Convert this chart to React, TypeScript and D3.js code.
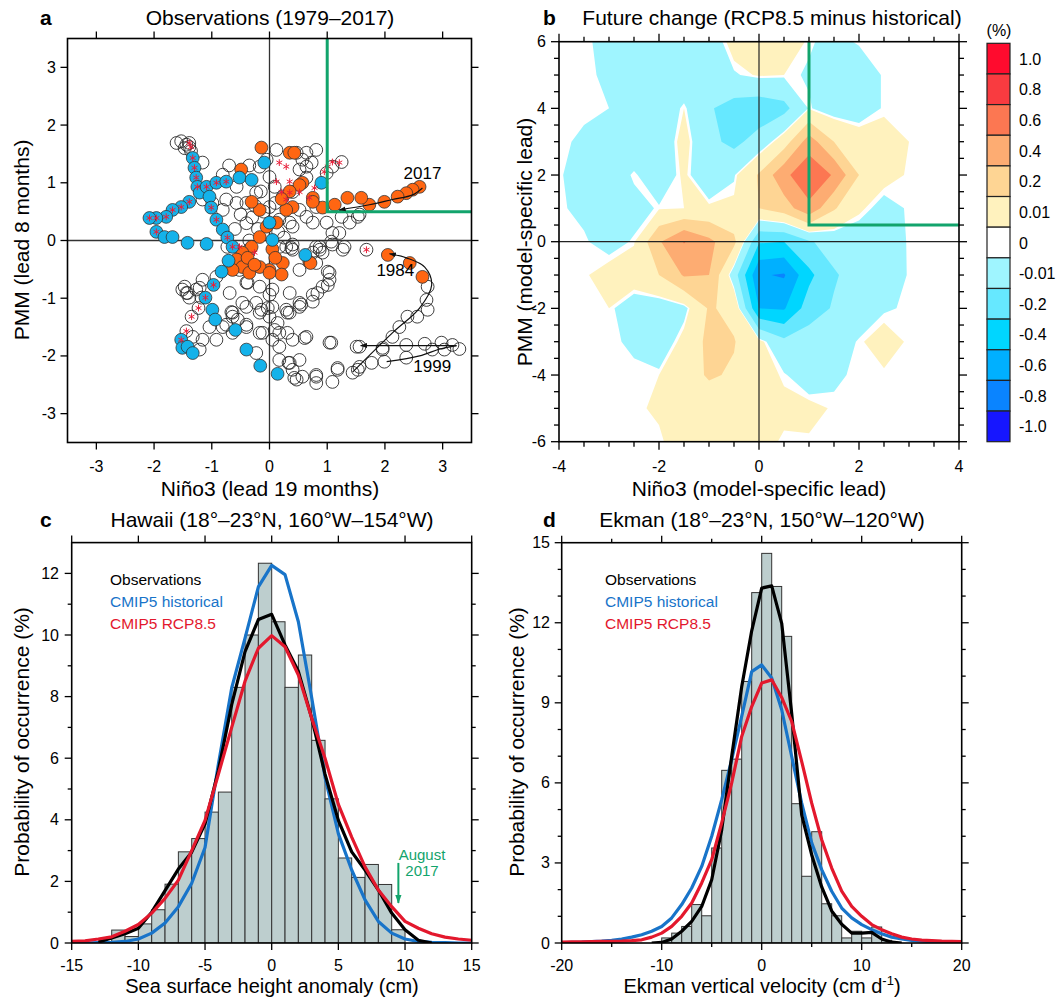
import * as d3 from 'd3'

const FONT = "'Liberation Sans', Arial, Helvetica, sans-serif"

// ---------- panel a: observed trajectory (Nino3 lead 19 months vs PMM lead 8 months) ----------
const openPts: [number, number][] = [
  [-1.61, 1.69], [-1.53, 1.72], [-1.44, 1.66], [-1.39, 1.62], [-1.47, 1.6], [-1.36, 1.55], [-1.39, 1.69],
  [-1.16, 1.35], [-0.81, 1.14], [-0.75, 0.71], [-0.81, 0.53], [-0.57, 0.93], [-0.57, 0.65], [-0.4, 0.65], [-0.23, 0.83],
  [-0.17, 1.28], [-0.05, 1.4], [0.12, 1.57], [0.64, 1.28], [0.64, 1.52], [0.81, 1.57], [0.81, 0.58], [0.64, 0.41],
  [0.4, 0.24], [0.29, -0.11], [0.4, -0.16], [0.52, -0.51], [0.75, -0.21], [0.87, -0.11], [-1.16, 0.71], [-0.99, 0.65],
  [-1.16, -0.68], [-0.92, -0.63], [-0.52, -0.51], [-0.4, -0.73], [-0.17, -0.8], [0.05, -0.85], [0.35, -0.91],
  [0.52, -1.08], [0.29, -1.2], [-0.17, -1.25], [-0.4, -1.15], [-0.64, -1.25], [-0.81, -1.5], [-0.64, -1.6],
  [-0.4, -1.5], [-0.17, -1.6], [0.05, -1.72], [0.17, -1.84], [0.4, -1.72], [0.64, -1.67], [0.52, -2.07], [0.4, -2.24],
  [-0.23, -1.95], [-1.33, -1.67], [-1.44, -0.91], [-1.51, -0.85], [-1.39, -0.99], [-1.42, -0.91], [-1.47, -0.8],
  [-1.27, -0.85], [-1.21, -0.82], [-1.18, -0.99], [-1.23, -1.17], [-1.35, -1.32], [-1.44, -1.57],
  [-0.69, -0.91], [-0.47, -1.08], [-0.38, -0.73], [0.0, -0.94], [0.05, -1.15], [0.0, -1.32], [0.09, -1.55],
  [0.17, -1.6], [0.33, -2.12], [0.55, -1.11], [0.75, -0.94], [0.92, -0.8], [1.04, -0.68], [1.01, -0.54],
  [0.81, -0.39], [0.31, -1.25], [0.61, -1.69], [1.07, -1.77], [1.51, -1.84], [1.53, -2.24], [1.18, -2.24],
  [1.09, -2.45], [0.81, -2.36], [0.81, -2.47], [0.57, -2.36], [0.47, -2.41], [-0.12, -1.6], [-0.55, -1.37],
  [-0.64, -1.32], [-0.75, -1.46], [-1.04, -1.5], [-0.92, -1.72], [-1.16, -1.72], [-1.21, -1.89], [-0.73, -0.11],
  [-0.52, -0.33], [-0.35, -0.16], [0.17, -0.11], [0.38, -0.13], [0.87, -0.16], [1.09, -0.07], [1.27, -0.16],
  [-0.4, -1.46], [-0.66, -1.24], [-0.23, -1.08], [-0.14, -1.2], [-0.03, -1.17], [0.43, -2.38],
  [0.75, 0.31], [0.99, 0.31], [1.25, 0.41], [1.56, 0.45], [1.09, 0.13], [0.81, -0.11], [0.4, -0.07], [0.92, -0.21],
  [1.04, -0.56], [1.01, -0.77], [0.83, -0.91], [0.75, -1.06], [0.52, -1.15], [0.35, -1.25], [0.14, -1.43],
  [0.31, -1.6], [1.04, -1.77], [1.56, -1.84], [1.96, -1.86], [2.37, -1.81], [2.69, -1.79], [2.98, -1.77],
  [3.17, -1.81], [3.29, -1.88], [3.03, -1.89], [2.82, -1.89], [2.37, -2.03], [1.99, -2.1], [1.77, -2.12],
  [1.56, -2.19], [1.44, -2.29], [1.18, -2.21], [0.81, -2.33], [0.35, -2.12], [0.17, -2.07],
  [2.74, -0.8], [2.72, -1.03], [2.74, -1.2], [2.56, -1.32], [2.39, -1.32], [2.25, -1.5], [2.13, -1.67], [1.96, -1.89],
  [1.25, 1.36], [1.09, 1.28], [0.99, 1.17], [0.73, 1.35], [0.57, 1.4], [0.47, 1.52], [0.52, 1.23], [0.64, 1.09],
  [0.4, 0.84], [0.23, 0.76], [0.09, 0.93], [0.0, 0.58], [0.17, 0.36], [0.35, 0.31], [0.52, 0.53], [1.3, -0.11],
  [1.68, -0.16], [1.39, 0.31], [1.53, 0.41], [1.07, -0.02], [1.21, 0.13],
  [-0.3, 0.4], [-0.2, 0.2], [-0.4, 0.3], [-0.1, 0.5], [-0.25, 0.6], [0.15, 0.15], [0.25, 0.05], [-0.35, 0.0],
  [-0.5, 0.45], [-0.6, 0.2], [0.1, 0.65], [-0.15, 0.85], [0.0, 1.1], [-0.35, 1.3], [-0.7, 1.3],
]

const orangePts: [number, number][] = [
  [2.6, 0.93], [2.48, 0.88], [2.37, 0.82], [2.22, 0.76], [1.99, 0.67], [1.73, 0.62], [1.59, 0.74], [1.35, 0.74],
  [1.13, 0.62], [0.92, 0.57], [0.75, 0.74], [0.57, 1.0], [0.35, 1.52], [0.43, 1.52], [-0.14, 1.61], [-0.49, 1.23],
  [2.05, -0.25], [2.43, -0.39], [2.65, -0.63],
  [0.69, -0.37], [0.23, -0.39], [0.0, -0.51], [0.21, -0.59], [0.71, -0.39],
  [0.4, 0.58], [0.29, 0.53], [0.12, 0.31], [-0.17, 0.06], [-0.31, -0.11], [-0.47, -0.21], [-0.57, -0.33],
  [-0.47, -0.46], [-0.35, -0.56], [-0.17, -0.46], [0.0, -0.56], [0.75, 0.67], [-0.17, 0.53], [-0.31, 0.67],
  [-0.38, -0.3], [-0.26, -0.42], [-0.64, -0.51], [0.52, 0.96], [0.35, 0.85], [0.21, 0.72], [-0.05, 0.24],
  [0.05, -0.15], [0.1, -0.3],
]

const bluePts: [number, number][] = [
  [-1.33, 1.43], [-1.3, 1.26], [-1.27, 1.09], [-1.25, 0.93], [-1.21, 0.83],
  [-1.09, 0.93], [-0.92, 1.0], [-0.75, 1.02], [-0.52, 1.09], [-0.31, 1.05],
  [-1.39, 0.67], [-1.53, 0.58], [-1.68, 0.53], [-1.79, 0.41], [-1.96, 0.39], [-2.08, 0.39], [-1.96, 0.15],
  [-1.82, 0.06], [-1.68, 0.06], [-1.42, -0.04], [-1.09, -0.06],
  [-1.04, 0.76], [-1.01, 0.57], [-0.92, 0.36], [-0.81, 0.19], [-0.73, 0.05], [-0.64, -0.11], [-0.71, -0.35],
  [-0.83, -0.54], [-0.97, -0.77], [-1.11, -0.99], [-0.99, -1.2], [-0.94, -1.37], [-0.59, -1.55],
  [-1.53, -1.72], [-1.51, -1.86], [-1.42, -1.84], [-1.33, -1.95],
  [-0.4, -1.89], [-0.16, -2.17], [0.14, -2.31],
  [-0.09, 1.35], [0.0, 0.31], [0.05, 0.01], [0.62, -0.25], [0.9, 1.0],
]

const starPts: [number, number][] = [
  [-1.33, 1.43], [-1.3, 1.26], [-1.27, 1.09], [-1.25, 0.93], [-1.39, 1.69], [-1.36, 1.62],
  [-1.39, 0.67], [-1.53, 0.58], [-1.68, 0.53], [-1.79, 0.41], [-1.96, 0.39], [-2.08, 0.39], [-1.96, 0.15],
  [-1.01, 0.57], [-0.92, 0.36], [-0.73, 0.05], [-0.64, -0.11], [-1.09, 0.93], [-0.92, 1.0], [-0.75, 1.02],
  [-0.97, -0.77], [-1.11, -0.99], [-1.23, -1.17], [-1.35, -1.32], [-1.44, -1.57], [-1.53, -1.72],
  [0.17, 1.35], [0.29, 1.28], [0.35, 1.02], [0.12, 1.02], [0.21, 0.84], [0.35, 0.83], [0.52, 0.84],
  [0.78, 0.91], [1.09, 1.36], [1.21, 1.35], [1.01, 1.28], [0.95, 1.19], [0.69, 0.74], [0.29, 0.71],
  [1.68, -0.16], [-0.52, -0.11], [-0.26, -0.21],
]

const arrow2017: [number, number][] = [[2.65, 0.91], [2.48, 0.79], [2.13, 0.71], [1.73, 0.62], [1.21, 0.53]]
const arrow1984: [number, number][] = [[1.44, -2.28], [2.13, -1.6], [2.6, -1.17], [2.81, -0.77], [2.69, -0.46], [2.37, -0.3], [2.08, -0.23]]
const arrow1999Curve: [number, number][] = [[2.03, -2.1], [2.6, -2.0], [2.95, -1.88], [3.24, -1.82]]
const arrow1999Line: [number, number][] = [[3.24, -1.82], [1.58, -1.82]]
const yearLabels = [
  { text: '2017', x: 2.65, y: 1.17 },
  { text: '1984', x: 2.18, y: -0.51 },
  { text: '1999', x: 2.82, y: -2.17 },
]

// ---------- panel b: future change field ----------
const gridX = [-4, -3.5, -3, -2.5, -2, -1.5, -1, -0.5, 0, 0.5, 1, 1.5, 2, 2.5, 3, 3.5, 4]
const gridY = [6, 5, 4, 3, 2, 1, 0, -1, -2, -3, -4, -5, -6]
const changeGrid = [
  [0, 0, -0.03, -0.1, -0.1, -0.1, -0.08, 0.05, 0.08, 0.06, 0, -0.04, 0, 0, 0, 0, 0],
  [0, 0, -0.02, -0.1, -0.12, -0.12, -0.15, -0.02, 0.02, 0.01, -0.02, -0.1, -0.08, 0, 0, 0, 0],
  [0, 0, -0.01, -0.1, -0.12, 0.01, -0.18, -0.28, -0.32, -0.26, 0, -0.08, -0.08, 0, 0, 0, 0],
  [0, -0.02, -0.1, -0.12, -0.12, 0.06, -0.15, -0.25, -0.12, 0.1, 0.5, 0.2, 0.08, 0.04, 0.01, 0, 0],
  [0, -0.06, -0.1, 0.005, -0.1, 0.03, -0.12, -0.02, 0.22, 0.55, 0.75, 0.58, 0.2, 0.05, 0, 0, 0],
  [0, -0.03, -0.06, -0.05, 0, 0.01, 0.03, 0.03, 0.2, 0.3, 0.55, 0.22, 0.03, -0.05, 0, 0, 0],
  [0, 0, -0.05, 0, 0.38, 0.61, 0.45, 0.25, -0.38, -0.4, -0.22, -0.12, -0.08, -0.05, -0.005, 0, 0],
  [0, 0, 0.05, 0.08, 0.2, 0.42, 0.4, -0.1, -0.78, -0.82, -0.45, -0.22, -0.12, -0.06, -0.005, 0, 0],
  [0, 0, 0.01, -0.08, -0.1, -0.05, 0.22, 0.15, -0.6, -0.62, -0.3, -0.18, -0.1, -0.02, 0, 0, 0],
  [0, 0, 0, -0.02, -0.1, 0.05, 0.25, 0.21, 0.05, -0.15, -0.1, -0.08, 0, 0.05, 0, 0, 0],
  [0, 0, 0, 0, 0.01, 0.12, 0.22, 0.18, 0.05, 0, -0.08, -0.02, 0, 0, 0, 0, 0],
  [0, 0, 0, 0, 0.02, 0.08, 0.1, 0.08, 0.05, 0.03, 0.04, 0, 0, 0, 0, 0, 0],
  [0, 0, 0, 0, 0, 0.05, 0.08, 0.06, 0.04, 0, 0, 0, 0, 0, 0, 0, 0],
]
const levels = [0.01, 0.2, 0.4, 0.6, 0.8, 1.0]
const posColors = ['#fff2be', '#fed594', '#fdac72', '#fc7752', '#f93b40', '#ff0b2e']
const negColors = ['#9ff5ff', '#66e8ff', '#00d6ff', '#00b0ff', '#0a84ff', '#1616ff']
const barLabels = ['1.0', '0.8', '0.6', '0.4', '0.2', '0.01', '0', '-0.01', '-0.2', '-0.4', '-0.6', '-0.8', '-1.0']
const barColors = [...posColors].reverse().concat(['#ffffff'], negColors)

// ---------- panel c: Hawaii sea surface height ----------
const sshBinLeft = [-12, -11, -10, -9, -8, -7, -6, -5, -4, -3, -2, -1, 0, 1, 2, 3, 4, 5, 6, 7, 8, 9]
const sshCounts = [0.42, 0.21, 0.62, 1.08, 1.91, 2.96, 3.39, 4.25, 4.9, 8.3, 10.0, 12.33, 10.43, 8.3, 9.35, 6.58, 4.68, 2.76, 2.13, 2.55, 1.9, 0.43]
const sshX = [-15, -14, -13, -12, -11, -10, -9, -8, -7, -6, -5, -4, -3, -2, -1, 0, 1, 2, 3, 4, 5, 6, 7, 8, 9, 10, 11, 12, 13, 14, 15]
const sshHist = [0, 0, 0.01, 0.02, 0.05, 0.13, 0.32, 0.65, 1.18, 1.94, 3.1, 5.8, 8.28, 9.9, 11.56, 12.26, 11.96, 10.43, 7.96, 5.38, 3.55, 2.37, 1.4, 0.7, 0.32, 0.13, 0.05, 0.02, 0.01, 0, 0]
const sshRcp = [0.05, 0.07, 0.13, 0.2, 0.38, 0.6, 0.97, 1.45, 2.04, 3.0, 3.98, 5.48, 7.0, 8.5, 9.57, 9.98, 9.62, 8.7, 7.3, 6.0, 4.5, 3.44, 2.47, 1.72, 1.18, 0.7, 0.48, 0.3, 0.19, 0.13, 0.09]
const sshObsX = [-13, -12, -11, -10, -9, -8, -7, -6, -5, -4, -3, -2, -1, 0, 1, 2, 3, 4, 5, 6, 7, 8, 9, 10, 11, 12]
const sshObs = [0.03, 0.16, 0.3, 0.48, 1.0, 1.7, 2.4, 2.95, 3.87, 5.6, 7.74, 9.46, 10.5, 10.67, 9.68, 8.82, 7.3, 5.48, 3.98, 2.96, 2.37, 1.72, 0.97, 0.43, 0.09, 0]
const aug2017 = { x: 9.5, top: 2.6, bottom: 1.3 }

// ---------- panel d: Ekman vertical velocity ----------
const ekBinLeft = [-10, -9, -8, -7, -6, -5, -4, -3, -2, -1, 0, 1, 2, 3, 4, 5, 6, 7, 8, 9, 10, 11, 12]
const ekCounts = [0.19, 0.37, 0.62, 1.44, 1.02, 3.56, 6.47, 6.89, 9.8, 13.13, 14.6, 13.36, 11.49, 5.22, 2.5, 4.17, 1.47, 1.02, 0.19, 0.44, 0.19, 0.6, 0.1]
const ekX = [-20, -19, -18, -17, -16, -15, -14, -13, -12, -11, -10, -9, -8, -7, -6, -5, -4, -3, -2, -1, 0, 1, 2, 3, 4, 5, 6, 7, 8, 9, 10, 11, 12, 13, 14, 15, 16, 17, 18, 19, 20]
const ekHist = [0.01, 0.02, 0.03, 0.05, 0.07, 0.1, 0.15, 0.22, 0.31, 0.44, 0.62, 0.94, 1.44, 2.06, 2.87, 4.0, 5.37, 6.87, 8.49, 10.17, 10.42, 9.93, 8.74, 6.99, 5.24, 3.75, 2.75, 1.94, 1.31, 0.94, 0.69, 0.5, 0.35, 0.22, 0.15, 0.1, 0.07, 0.05, 0.03, 0.02, 0.01]
const ekRcp = [0.03, 0.04, 0.04, 0.05, 0.06, 0.06, 0.07, 0.09, 0.12, 0.22, 0.37, 0.62, 1.0, 1.5, 2.25, 3.12, 4.5, 6.0, 7.74, 8.86, 9.74, 9.86, 9.2, 8.3, 6.8, 5.24, 3.87, 2.81, 1.94, 1.37, 1.0, 0.69, 0.5, 0.35, 0.22, 0.15, 0.11, 0.09, 0.07, 0.06, 0.05]
const ekObsX = [-11, -10, -9, -8, -7, -6, -5, -4, -3, -2, -1, 0, 1, 2, 3, 4, 5, 6, 7, 8, 9, 10, 11, 12, 13, 14]
const ekObs = [0, 0.02, 0.15, 0.44, 0.81, 1.37, 2.37, 4.24, 7.0, 9.6, 11.7, 13.3, 13.38, 11.98, 8.6, 4.8, 3.3, 2.1, 1.2, 0.7, 0.37, 0.37, 0.4, 0.15, 0.03, 0]

const legendItems = [
  { label: 'Observations', color: '#000000' },
  { label: 'CMIP5 historical', color: '#1874c9' },
  { label: 'CMIP5 RCP8.5', color: '#e3182d' },
]

// ---------- scales ----------
const aX = d3.scaleLinear().domain([-3.5, 3.5]).range([67.5, 471.5])
const aY = d3.scaleLinear().domain([-3.5, 3.5]).range([442.5, 38.5])
const bX = d3.scaleLinear().domain([-4, 4]).range([559, 959])
const bY = d3.scaleLinear().domain([-6, 6]).range([441.7, 41.7])
const cX = d3.scaleLinear().domain([-15, 15]).range([71.7, 471.7])
const cY = d3.scaleLinear().domain([0, 13]).range([943, 542.6])
const dX = d3.scaleLinear().domain([-20, 20]).range([561.7, 961.7])
const dY = d3.scaleLinear().domain([0, 15]).range([943, 542.7])

const fmt = (v: number) => (v < 0 ? '-' + Math.abs(v) : String(v))
const range = (a: number, b: number, s: number) => d3.range(a, b + s / 2, s)

function Frame({ x, y, xMajor, xMinor = [], yMajor, yMinor = [], xLabelY, yLabelX, major = 7, minor = 4 }: any) {
  const [l, r] = x.range()
  const [b, t] = y.range()
  return (
    <g>
      <g stroke="#000" strokeWidth={1.3}>
        {xMajor.map((v: number) => (
          <g key={'xm' + v}>
            <line x1={x(v)} x2={x(v)} y1={b} y2={b + major} />
            <line x1={x(v)} x2={x(v)} y1={t} y2={t - major} />
          </g>
        ))}
        {xMinor.map((v: number) => (
          <g key={'xn' + v}>
            <line x1={x(v)} x2={x(v)} y1={b} y2={b + minor} />
            <line x1={x(v)} x2={x(v)} y1={t} y2={t - minor} />
          </g>
        ))}
        {yMajor.map((v: number) => (
          <g key={'ym' + v}>
            <line x1={l} x2={l - major} y1={y(v)} y2={y(v)} />
            <line x1={r} x2={r + major} y1={y(v)} y2={y(v)} />
          </g>
        ))}
        {yMinor.map((v: number) => (
          <g key={'yn' + v}>
            <line x1={l} x2={l - minor} y1={y(v)} y2={y(v)} />
            <line x1={r} x2={r + minor} y1={y(v)} y2={y(v)} />
          </g>
        ))}
      </g>
      <rect x={l} y={t} width={r - l} height={b - t} fill="none" stroke="#000" strokeWidth={1.6} />
      <g fontSize={16}>
        {xMajor.map((v: number) => (
          <text key={'tx' + v} x={x(v)} y={xLabelY} textAnchor="middle">{fmt(v)}</text>
        ))}
        {yMajor.map((v: number) => (
          <text key={'ty' + v} x={yLabelX} y={y(v) + 5.5} textAnchor="end">{fmt(v)}</text>
        ))}
      </g>
    </g>
  )
}

function starPath(cx: number, cy: number, r: number) {
  let d = ''
  for (const ang of [90, 30, 150]) {
    const a = (ang * Math.PI) / 180
    d += `M${cx - r * Math.cos(a)},${cy - r * Math.sin(a)}L${cx + r * Math.cos(a)},${cy + r * Math.sin(a)}`
  }
  return d
}

function PanelA() {
  const curve = d3.line<[number, number]>().x(d => aX(d[0])).y(d => aY(d[1])).curve(d3.curveCatmullRom)
  const straight = d3.line<[number, number]>().x(d => aX(d[0])).y(d => aY(d[1]))
  const R = 6.4
  return (
    <g>
      <defs>
        <clipPath id="clipA"><rect x={67.5} y={38.5} width={404} height={404} /></clipPath>
      </defs>
      <g clipPath="url(#clipA)">
        <line x1={aX(0)} x2={aX(0)} y1={aY(3.5)} y2={aY(-3.5)} stroke="#333" strokeWidth={1.3} />
        <line x1={aX(-3.5)} x2={aX(3.5)} y1={aY(0)} y2={aY(0)} stroke="#333" strokeWidth={1.3} />
        {openPts.map((p, i) => (
          <circle key={'o' + i} cx={aX(p[0])} cy={aY(p[1])} r={R} fill="none" stroke="#2a2a2a" strokeWidth={0.9} />
        ))}
        {orangePts.map((p, i) => (
          <circle key={'r' + i} cx={aX(p[0])} cy={aY(p[1])} r={R} fill="#ff6612" stroke="#333" strokeWidth={0.8} />
        ))}
        {bluePts.map((p, i) => (
          <circle key={'b' + i} cx={aX(p[0])} cy={aY(p[1])} r={R} fill="#14b2ea" stroke="#333" strokeWidth={0.8} />
        ))}
        {starPts.map((p, i) => (
          <path key={'s' + i} d={starPath(aX(p[0]), aY(p[1]), 3.4)} stroke="#e8203a" strokeWidth={1} />
        ))}
        <path d={`M${aX(1)},${aY(3.5)}V${aY(0.5)}H${aX(3.5)}`} fill="none" stroke="#12a46c" strokeWidth={3} />
        <g fill="none" stroke="#111" strokeWidth={1.2}>
          <path d={curve(arrow2017) || ''} markerEnd="url(#arrowK)" />
          <path d={curve(arrow1984) || ''} markerEnd="url(#arrowK)" />
          <path d={curve(arrow1999Curve) || ''} />
          <path d={straight(arrow1999Line) || ''} markerEnd="url(#arrowK)" />
        </g>
        {yearLabels.map(l => (
          <text key={l.text} x={aX(l.x)} y={aY(l.y) + 6} textAnchor="middle" fontSize={17}>{l.text}</text>
        ))}
      </g>
      <Frame x={aX} y={aY} xMajor={range(-3, 3, 1)} yMajor={range(-3, 3, 1)} xLabelY={472} yLabelX={56} />
      <text x={270} y={25} textAnchor="middle" fontSize={21}>Observations (1979–2017)</text>
      <text x={270} y={496} textAnchor="middle" fontSize={21}>Niño3 (lead 19 months)</text>
      <text transform="translate(29,240) rotate(-90)" textAnchor="middle" fontSize={21}>PMM (lead 8 months)</text>
    </g>
  )
}

function PanelB() {
  const nx = gridX.length
  const ny = gridY.length
  const flat = changeGrid.flat()
  const flatNeg = flat.map(v => -v)
  const gen = d3.contours().size([nx, ny])
  const proj = d3.geoTransform({
    point(px: number, py: number) {
      const gx = gridX[0] + (px - 0.5) * (gridX[1] - gridX[0])
      const gy = gridY[0] + (py - 0.5) * (gridY[1] - gridY[0])
      ;(this as any).stream.point(bX(gx), bY(gy))
    },
  })
  const path = d3.geoPath(proj)
  const boxH = (441.7 - 43.3) / barLabels.length
  return (
    <g>
      <defs>
        <clipPath id="clipB"><rect x={559} y={41.7} width={400} height={400} /></clipPath>
      </defs>
      <g clipPath="url(#clipB)">
        {levels.map((t, i) => (
          <path key={'p' + t} d={path(gen.contour(flat, t) as any) || ''} fill={posColors[i]} />
        ))}
        {levels.map((t, i) => (
          <path key={'n' + t} d={path(gen.contour(flatNeg, t) as any) || ''} fill={negColors[i]} />
        ))}
        <line x1={bX(0)} x2={bX(0)} y1={bY(6)} y2={bY(-6)} stroke="#222" strokeWidth={1.2} />
        <line x1={bX(-4)} x2={bX(4)} y1={bY(0)} y2={bY(0)} stroke="#222" strokeWidth={1.2} />
        <path d={`M${bX(1)},${bY(6)}V${bY(0.5)}H${bX(4)}`} fill="none" stroke="#12a46c" strokeWidth={3} />
      </g>
      <Frame x={bX} y={bY} xMajor={range(-4, 4, 2)} xMinor={range(-3.5, 3.5, 0.5).filter(v => v % 2 !== 0)}
        yMajor={range(-6, 6, 2)} yMinor={range(-5.5, 5.5, 0.5).filter(v => v % 2 !== 0)}
        xLabelY={472} yLabelX={546} major={8} minor={5} />
      {barLabels.map((lab, i) => (
        <g key={'cb' + i}>
          <rect x={987} y={43.3 + i * boxH} width={23} height={boxH} fill={barColors[i]} stroke="#222" strokeWidth={1.2} />
          <text x={1019} y={43.3 + (i + 0.5) * boxH + 6} fontSize={16}>{lab}</text>
        </g>
      ))}
      <text x={999} y={36} textAnchor="middle" fontSize={16}>(%)</text>
      <text x={772} y={25} textAnchor="middle" fontSize={21}>Future change (RCP8.5 minus historical)</text>
      <text x={759} y={496} textAnchor="middle" fontSize={21}>Niño3 (model-specific lead)</text>
      <text transform="translate(532,242) rotate(-90)" textAnchor="middle" fontSize={21}>PMM (model-specific lead)</text>
    </g>
  )
}

function HistPanel({ x, y, binLeft, counts, hisX, his, rcp, obsX, obs, clipId }: any) {
  const line = d3.line<[number, number]>().x(d => x(d[0])).y(d => y(d[1]))
  const [l, r] = x.range()
  const [b, t] = y.range()
  const zip = (xs: number[], ys: number[]) => xs.map((v, i) => [v, ys[i]] as [number, number])
  return (
    <g>
      <defs>
        <clipPath id={clipId}><rect x={l} y={t} width={r - l} height={b - t} /></clipPath>
      </defs>
      <g clipPath={`url(#${clipId})`}>
        {binLeft.map((v: number, i: number) => (
          <rect key={'h' + v} x={x(v)} y={y(counts[i])} width={x(v + 1) - x(v)} height={y(0) - y(counts[i])}
            fill="#bdcece" stroke="#333" strokeWidth={1} />
        ))}
        <path d={line(zip(hisX, his)) || ''} fill="none" stroke="#1874c9" strokeWidth={3.2} strokeLinejoin="round" />
        <path d={line(zip(obsX, obs)) || ''} fill="none" stroke="#000" strokeWidth={3.2} strokeLinejoin="round" />
        <path d={line(zip(hisX, rcp)) || ''} fill="none" stroke="#e3182d" strokeWidth={3.2} strokeLinejoin="round" />
      </g>
    </g>
  )
}

function Legend({ x0 }: { x0: number }) {
  return (
    <g fontSize={15.5}>
      {legendItems.map((it, i) => (
        <text key={it.label} x={x0} y={585 + i * 22} fill={it.color}>{it.label}</text>
      ))}
    </g>
  )
}

export default function App() {
  return (
    <svg width={1062} height={1000} style={{ position: 'absolute', left: 0, top: 0, fontFamily: FONT }}>
      <defs>
        <marker id="arrowK" viewBox="0 0 10 10" refX={9} refY={5} markerWidth={7} markerHeight={7} orient="auto" markerUnits="userSpaceOnUse">
          <path d="M0,1.5L10,5L0,8.5z" fill="#111" />
        </marker>
        <marker id="arrowG" viewBox="0 0 10 10" refX={9} refY={5} markerWidth={9} markerHeight={9} orient="auto" markerUnits="userSpaceOnUse">
          <path d="M0,1.5L10,5L0,8.5z" fill="#12a46c" />
        </marker>
      </defs>
      <rect width={1062} height={1000} fill="#fff" />

      <PanelA />
      <PanelB />

      {/* panel c */}
      <HistPanel x={cX} y={cY} binLeft={sshBinLeft} counts={sshCounts} hisX={sshX} his={sshHist} rcp={sshRcp}
        obsX={sshObsX} obs={sshObs} clipId="clipC" />
      <Frame x={cX} y={cY} xMajor={range(-15, 15, 5)} yMajor={range(0, 12, 2)} yMinor={range(1, 11, 2)}
        xLabelY={971} yLabelX={59} />
      <Legend x0={110} />
      <line x1={cX(aug2017.x)} x2={cX(aug2017.x)} y1={cY(aug2017.top)} y2={cY(aug2017.bottom)}
        stroke="#12a46c" strokeWidth={2} markerEnd="url(#arrowG)" />
      <text x={422} y={860} textAnchor="middle" fontSize={15} fill="#12a46c">August</text>
      <text x={422} y={876} textAnchor="middle" fontSize={15} fill="#12a46c">2017</text>
      <text x={272} y={527} textAnchor="middle" fontSize={21}>Hawaii (18°–23°N, 160°W–154°W)</text>
      <text x={272} y={993} textAnchor="middle" fontSize={20}>Sea surface height anomaly (cm)</text>
      <text transform="translate(29,742) rotate(-90)" textAnchor="middle" fontSize={21}>Probability of occurrence (%)</text>

      {/* panel d */}
      <HistPanel x={dX} y={dY} binLeft={ekBinLeft} counts={ekCounts} hisX={ekX} his={ekHist} rcp={ekRcp}
        obsX={ekObsX} obs={ekObs} clipId="clipD" />
      <Frame x={dX} y={dY} xMajor={range(-20, 20, 10)} xMinor={[-15, -5, 5, 15]} yMajor={range(0, 15, 3)}
        yMinor={range(1, 14, 1).filter(v => v % 3 !== 0)} xLabelY={971} yLabelX={550} />
      <Legend x0={605} />
      <text x={762} y={527} textAnchor="middle" fontSize={21}>Ekman (18°–23°N, 150°W–120°W)</text>
      <text x={762} y={993} textAnchor="middle" fontSize={20}>
        <tspan>Ekman vertical velocity (cm d</tspan>
        <tspan dy={-8} fontSize={13}>-1</tspan>
        <tspan dy={8}>)</tspan>
      </text>
      <text transform="translate(524,742) rotate(-90)" textAnchor="middle" fontSize={21}>Probability of occurrence (%)</text>

      <g fontSize={21} fontWeight="bold">
        <text x={40} y={25}>a</text>
        <text x={543} y={25}>b</text>
        <text x={40} y={527}>c</text>
        <text x={543} y={527}>d</text>
      </g>
    </svg>
  )
}
